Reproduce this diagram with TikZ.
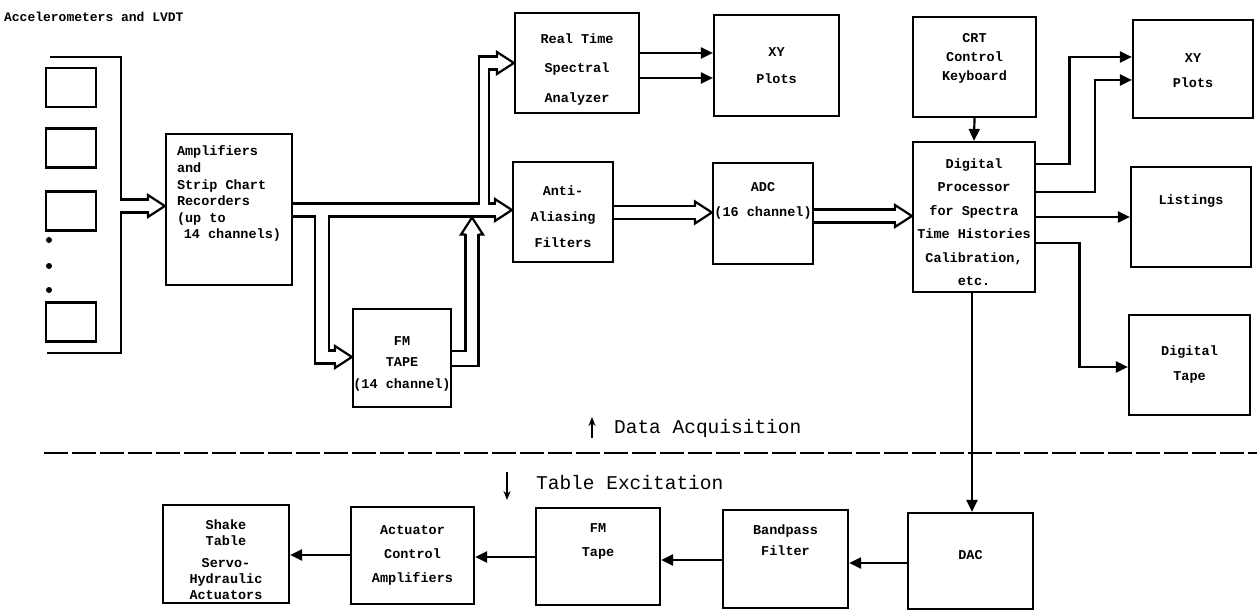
\documentclass[tikz,border=0pt]{standalone}
\usepackage{fontspec}
\setmonofont{Liberation Mono}
\usetikzlibrary{arrows.meta}

\tikzset{
  box/.style={draw, inner sep=0pt, align=center,
    font=\ttfamily\bfseries\fontsize{13.5}{#1}\selectfont},
  box/.default=25pt,
  sensor/.style={draw, minimum width=50pt, minimum height=39pt},
  flow/.style={-{Triangle[length=12pt,width=11pt]}},
  hollow/.pic={\draw[line join=miter] (-17,-6.5) -- (-17,-11) -- (0,0) -- (-17,11) -- (-17,6.5);},
  caption/.style={font=\ttfamily\fontsize{19.5}{20}\selectfont, anchor=west, inner sep=0pt},
  updown/.style={line width=1.5pt, -{Stealth[length=9pt,width=7pt]}}
}

\begin{document}
\begin{tikzpicture}[x=1pt, y=-1pt, line width=2.2pt]
  \useasboundingbox (0,0) rectangle (1257,612);

  \node[font=\ttfamily\bfseries\fontsize{13}{13}\selectfont, anchor=west, inner sep=0pt] (title) at (3,17) {Accelerometers and LVDT};

  % transducers
  \foreach \n/\y in {1/87.5, 2/148, 3/211, 4/322}
    \node[sensor] (s\n) at (71,\y) {};
  \foreach \y in {240,266,290}
    \fill (49,\y) circle (3pt);

  % data acquisition
  \node[box=16.6pt, minimum width=126pt, minimum height=151pt, align=left, text depth=34pt] (amp) at (229,209.5) {Amplifiers\\and\\Strip Chart\\Recorders\\(up to\\\hspace*{0.5em}14 channels)};
  \node[box=29.5pt, minimum width=124pt, minimum height=100pt, text height=81pt] (rt) at (577,63) {Real Time\\Spectral\\Analyzer};
  \node[box=27pt, minimum width=125pt, minimum height=101pt] (xya) at (776.5,65.5) {XY\\Plots};
  \node[box=26pt, minimum width=100pt, minimum height=100pt, text height=72pt] (aaf) at (563,212) {Anti-\\Aliasing\\Filters};
  \node[box, minimum width=100pt, minimum height=101pt, text depth=28pt] (adc) at (763,213.5) {ADC\\(16 channel)};
  \node[box=21.5pt, minimum width=98pt, minimum height=98pt, text height=63pt] (fma) at (402,358) {FM\\TAPE\\(14 channel)};
  \node[box=19pt, minimum width=123pt, minimum height=100pt, text depth=20pt] (crt) at (974.5,67) {CRT\\Control\\Keyboard};
  \node[box=23.4pt, minimum width=122pt, minimum height=150pt, text height=137pt] (dp) at (974,217) {Digital\\Processor\\for Spectra\\Time Histories\\Calibration,\\etc.};
  \node[box, minimum width=120pt, minimum height=98pt, text height=38pt] (xyb) at (1193,69) {XY\\Plots};
  \node[box, minimum width=120pt, minimum height=100pt, text depth=34pt] (lst) at (1191,217) {Listings};
  \node[box, minimum width=121pt, minimum height=100pt] (dtp) at (1189.5,365) {Digital\\Tape};

  % table excitation
  \node[box=16pt, minimum width=126pt, minimum height=98pt, text height=92pt] (shk) at (226,554) {Shake\\Table\\[6pt]Servo-\\Hydraulic\\Actuators};
  \node[box=24pt, minimum width=123pt, minimum height=97pt] (act) at (412.5,555.5) {Actuator\\Control\\Amplifiers};
  \node[box=24pt, minimum width=124pt, minimum height=97pt, text depth=32pt] (fmb) at (598,556.5) {FM\\Tape};
  \node[box=21pt, minimum width=125pt, minimum height=98pt, text depth=38pt] (bpf) at (785.5,559) {Bandpass\\Filter};
  \node[box, minimum width=125pt, minimum height=96pt, text depth=12pt] (dac) at (970.5,561) {DAC};

  \draw[dash pattern=on 24pt off 4pt] (44,453) -- (1257,453);
  \node[caption] (acq) at (613,428) {Data Acquisition};
  \node[caption] (exc) at (535,483) {Table Excitation};
  \draw[updown] ([xshift=-21pt,yshift=-10pt]acq.west) -- ([xshift=-21pt,yshift=11pt]acq.west);
  \draw[updown] ([xshift=-28pt,yshift=11pt]exc.west) -- ([xshift=-28pt,yshift=-17pt]exc.west);

  % hollow arrows
  \draw (50,57) -- (121,57) |- (149,199.5);
  \draw (47,353) -- (121,353) |- (149,212.5);
  \pic at (amp.west |- 0,206) {hollow};

  \draw (amp.east |- 0,203.5) -- (479,203.5) |- (498,56.5);
  \draw (498,69.5) -| (489,203.5) -- (496,203.5);
  \pic at (rt.west |- 0,63) {hollow};
  \pic at (aaf.west |- 0,210) {hollow};
  \draw (amp.east |- 0,216.5) -| (315,363.5) -- (336,363.5);
  \draw (496,216.5) -| (329,350.5) -- (336,350.5);
  \pic at (fma.west |- 0,357) {hollow};

  \draw (fma.east |- 0,351) -| (465.5,234.5);
  \draw (fma.east |- 0,366) -| (478.5,234.5);
  \pic[rotate=90] at (472,217.5) {hollow};

  \draw (aaf.east |- 0,206) -- (696,206);
  \draw (aaf.east |- 0,219) -- (696,219);
  \pic at (adc.west |- 0,212.5) {hollow};
  \draw (adc.east |- 0,209.5) -- (896,209.5);
  \draw (adc.east |- 0,222.5) -- (896,222.5);
  \pic at (dp.west |- 0,216) {hollow};

  % plain arrows
  \draw[flow] (rt.east |- 0,53) -- (xya.west |- 0,53);
  \draw[flow] (rt.east |- 0,78) -- (xya.west |- 0,78);
  \draw[flow] (crt.south) -- (dp.north);
  \draw[flow] (dp.east |- 0,164) -| (1069.5,57) -- (xyb.west |- 0,57);
  \draw[flow] (dp.east |- 0,192) -| (1095,80) -- (xyb.west |- 0,80);
  \draw[flow] (dp.east |- 0,217) -- (lst.west |- 0,217);
  \draw[flow] (dp.east |- 0,243) -| (1079.5,367) -- (dtp.west |- 0,367);
  \draw[flow] (dp.south -| 972,0) -- (dac.north -| 972,0);

  \draw[flow] (dac.west |- 0,563) -- (bpf.east |- 0,563);
  \draw[flow] (bpf.west |- 0,560) -- (fmb.east |- 0,560);
  \draw[flow] (fmb.west |- 0,557) -- (act.east |- 0,557);
  \draw[flow] (act.west |- 0,555) -- (shk.east |- 0,555);
\end{tikzpicture}
\end{document}
